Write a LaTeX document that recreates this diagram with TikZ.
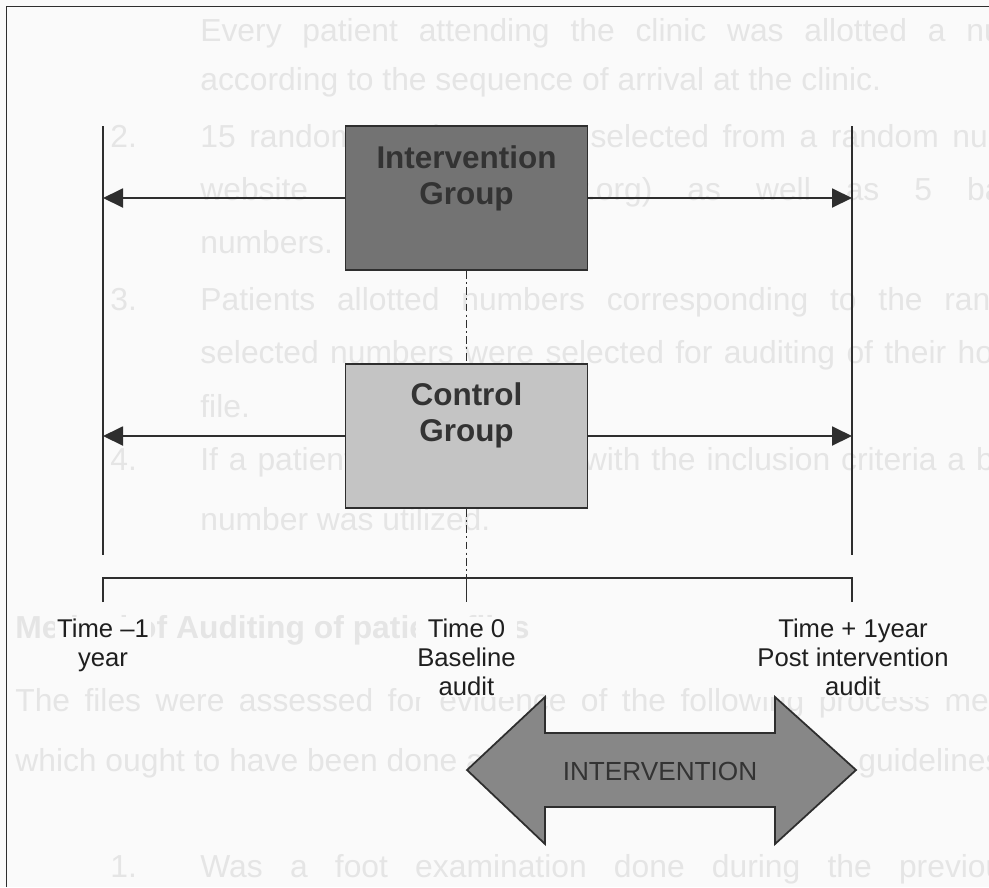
\documentclass[tikz,border=0pt]{standalone}
\usepackage{fontspec}
\setmainfont{Liberation Sans}
\usetikzlibrary{arrows.meta}

\definecolor{paper}{gray}{0.98}
\definecolor{inkline}{gray}{0.18}
\definecolor{inktext}{gray}{0.12}
\definecolor{ivfill}{gray}{0.45}
\definecolor{cgfill}{gray}{0.77}
\definecolor{bigfill}{gray}{0.53}
\definecolor{boxtextcol}{gray}{0.2}
\definecolor{ghosttext}{gray}{0.9}

\newlength{\pxlen}
\setlength{\pxlen}{0.2mm}

\begin{document}
\begin{tikzpicture}[x=0.2mm, y=-0.2mm,
    linea/.style={line width=1.1pt, draw=inkline},
    freccia/.style={linea, -{Triangle[length=4mm, width=3.8mm]}},
    tratteggio/.style={line width=1.1pt, draw=inkline, dash pattern=on 4.5pt off 1.8pt on 1.2pt off 1.8pt},
    gruppo/.style={draw=inkline, line width=1pt, minimum width=48.4mm, minimum height=28.8mm, inner sep=0pt},
    testogruppo/.style={font=\fontsize{17.9}{20.5}\selectfont\bfseries, text=boxtextcol, align=center, inner sep=0pt},
    tempo/.style={font=\fontsize{14.6}{16.4}\selectfont, text=inktext, align=center, fill=paper, inner sep=1pt},
    sfondo/.style={font=\fontsize{18.1}{20}\selectfont, text=ghosttext, anchor=base west, inner sep=0pt}]
    \useasboundingbox (0,0) rectangle (989,887);
    \clip (0,0) rectangle (989,887);
    \fill[paper] (0,0) rectangle (989,887);

    % Testo della pagina (in trasparenza)
    \node[sfondo] (r1) at (200,41) {\makebox[874\pxlen][s]{Every patient attending the clinic was allotted a number}};
    \node[sfondo] (r2) at (200,90) {according to the sequence of arrival at the clinic.};
    \node[sfondo] (n2) at (110,147) {2.};
    \node[sfondo] (r3) at (200,147) {\makebox[860\pxlen][s]{15 random numbers were selected from a random number}};
    \node[sfondo] (r4) at (200,200) {\makebox[880\pxlen][s]{website (www.randomizer.org) as well as 5 back-up}};
    \node[sfondo] (r5) at (200,253) {numbers.};
    \node[sfondo] (n3) at (110,310) {3.};
    \node[sfondo] (r6) at (200,310) {\makebox[852\pxlen][s]{Patients allotted numbers corresponding to the random}};
    \node[sfondo] (r7) at (200,363) {\makebox[867\pxlen][s]{selected numbers were selected for auditing of their hospital}};
    \node[sfondo] (r8) at (200,417) {file.};
    \node[sfondo] (n4) at (110,470) {4.};
    \node[sfondo] (r9) at (200,470) {\makebox[889\pxlen][s]{If a patient did not comply with the inclusion criteria a back-up}};
    \node[sfondo] (r10) at (200,530) {number was utilized.};
    \node[sfondo, font=\fontsize{18.1}{20}\selectfont\bfseries] (tit) at (15,638) {Method of Auditing of patient files};
    \node[sfondo] (r11) at (15,711) {\makebox[1069\pxlen][s]{The files were assessed for evidence of the following process measures}};
    \node[sfondo] (r12) at (15,771) {which ought to have been done according to the};
    \node[sfondo] (r13) at (858,771) {guidelines};
    \node[sfondo] (n1) at (110,877) {1.};
    \node[sfondo] (r14) at (200,877) {\makebox[819\pxlen][s]{Was a foot examination done during the previous}};

    % Cornice
    \draw[linea] (6.5,887) -- (6.5,6.5) -- (989,6.5);

    % Linee verticali
    \coordinate (ltop) at (103,126);
    \coordinate (lbot) at (103,555);
    \coordinate (rtop) at (852,126);
    \coordinate (rbot) at (852,555);
    \draw[linea] (ltop) -- (lbot);
    \draw[linea] (rtop) -- (rbot);

    % Gruppi
    \node[gruppo, fill=ivfill] (iv) at (466.5,198) {};
    \node[testogruppo] (ivtesto) at (466.5,178) {Intervention\\Group};
    \node[gruppo, fill=cgfill] (cg) at (466.5,436) {};
    \node[testogruppo] (cgtesto) at (466.5,415) {Control\\Group};

    % Frecce verso le linee
    \draw[freccia] (iv.west) -- (iv.west -| ltop);
    \draw[freccia] (iv.east) -- (iv.east -| rtop);
    \draw[freccia] (cg.west) -- (cg.west -| ltop);
    \draw[freccia] (cg.east) -- (cg.east -| rtop);

    % Asse dei tempi
    \coordinate (t1) at (103,578);
    \coordinate (t2) at (466.5,578);
    \coordinate (t3) at (852,578);
    \draw[linea] ([yshift=-24\pxlen]t1) -- (t1) -- (t3) -- ([yshift=-24\pxlen]t3);
    \draw[linea] (t2) -- ([yshift=-24\pxlen]t2);
    \draw[tratteggio] (iv.south) -- (cg.north);
    \draw[tratteggio] (cg.south) -- (t2);

    % Etichette
    \node[tempo] (tm1) at (103,645) {Time –1\\year};
    \node[tempo] (t0) at (466.5,657) {Time 0\\Baseline\\audit};
    \node[tempo] (tp1) at (853,657) {Time + 1year\\Post intervention\\audit};

    % Freccia doppia
    \filldraw[fill=bigfill, draw=inkline, line width=1pt] (467,770) -- (545,697) -- (545,733) -- (775,733)
        -- (775,697) -- (856,770) -- (775,844) -- (775,807) -- (545,807) -- (545,844) -- cycle;
    \node[font=\fontsize{14.9}{17}\selectfont, text=boxtextcol] (intv) at (660,771) {INTERVENTION};
\end{tikzpicture}
\end{document}
